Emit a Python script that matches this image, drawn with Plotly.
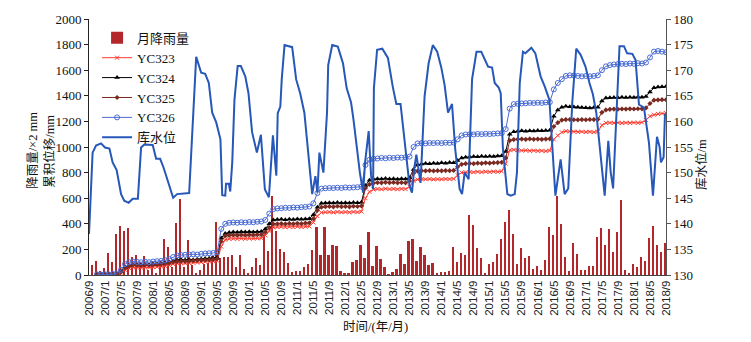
import plotly.graph_objects as go

# ---------------- data ----------------
# x axis: month index, 0 = 2006/9, 144 = 2018/9
tick_labels = ["2006/9", "2007/1", "2007/5", "2007/9", "2008/1", "2008/5", "2008/9",
               "2009/1", "2009/5", "2009/9", "2010/1", "2010/5", "2010/9",
               "2011/1", "2011/5", "2011/9", "2012/1", "2012/5", "2012/9",
               "2013/1", "2013/5", "2013/9", "2014/1", "2014/5", "2014/9",
               "2015/1", "2015/5", "2015/9", "2016/1", "2016/5", "2016/9",
               "2017/1", "2017/5", "2017/9", "2018/1", "2018/5", "2018/9"]
tick_months = [4 * i for i in range(len(tick_labels))]

# monthly rainfall (axis units), months 1..144
rain = [77, 106, 30, 57, 170, 102, 318, 380, 340, 364, 140, 155,
        100, 145, 40, 108, 15, 110, 285, 220, 65, 405, 596, 60,
        276, 76, 8, 36, 88, 93, 150, 415, 130, 137, 140, 155,
        59, 160, 50, 15, 59, 132, 80, 310, 188, 620, 341, 207,
        176, 90, 21, 31, 31, 59, 83, 196, 377, 160, 377, 155,
        232, 227, 34, 18, 13, 103, 114, 232, 134, 336, 72, 227,
        124, 65, 5, 21, 46, 165, 83, 263, 284, 108, 222, 160,
        77, 93, 15, 21, 26, 31, 222, 98, 170, 155, 465, 393,
        212, 129, 10, 83, 103, 165, 279, 413, 511, 323, 88, 212,
        129, 150, 46, 67, 36, 121, 377, 310, 620, 400, 142, 31,
        248, 165, 39, 39, 72, 72, 294, 367, 238, 356, 181, 336,
        584, 36, 10, 83, 62, 142, 108, 289, 382, 232, 181, 251]
rain_months = list(range(1, 1 + len(rain)))

# cumulative displacement (mm), months 2..144
yc326 = [5, 3, 6, 4, 8, 12,
         40, 85, 100, 105, 102, 100, 104, 100, 105, 108, 110, 115,
         125, 140, 152, 155, 158, 160, 162, 160, 165, 168, 170, 172,
         178, 360, 400, 408, 410, 408, 412, 410, 414, 412, 416, 418,
         430, 480, 515, 520, 522, 525, 524, 528, 526, 530, 532, 535,
         560, 640, 675, 678, 680, 679, 682, 680, 684, 682, 684, 686,
         690, 860, 900, 908, 910, 915, 912, 916, 914, 918, 916, 920,
         925, 1000, 1028, 1030, 1028, 1032, 1030, 1033, 1030, 1034, 1032, 1035,
         1060, 1090, 1098, 1100, 1098, 1102, 1100, 1103, 1101, 1104, 1106, 1108,
         1140, 1300, 1335, 1338, 1340, 1342, 1345, 1343, 1346, 1344, 1348, 1350,
         1450, 1500, 1530, 1555, 1560, 1558, 1555, 1552, 1555, 1552, 1555, 1560,
         1600, 1630, 1640, 1645, 1648, 1650, 1648, 1652, 1650, 1655, 1652, 1660,
         1700, 1745, 1750, 1745, 1740]
yc324 = [5, 2, 4, 6, 3, 8,
         30, 60, 75, 82, 80, 78, 82, 80, 84, 86, 90, 95,
         100, 110, 118, 120, 118, 122, 120, 124, 125, 128, 130, 132,
         137, 290, 325, 333, 336, 334, 338, 336, 338, 335, 338, 340,
         360, 400, 430, 434, 436, 432, 436, 434, 438, 435, 438, 440,
         470, 530, 560, 563, 565, 562, 566, 563, 565, 562, 566, 564,
         568, 700, 740, 748, 752, 750, 754, 750, 752, 749, 752, 750,
         760, 825, 862, 868, 872, 870, 874, 872, 876, 874, 878, 876,
         895, 915, 920, 922, 925, 923, 927, 925, 928, 926, 930, 932,
         965, 1100, 1120, 1124, 1126, 1123, 1127, 1125, 1128, 1126, 1128, 1130,
         1240, 1290, 1310, 1318, 1315, 1312, 1310, 1308, 1306, 1305, 1308, 1310,
         1360, 1382, 1385, 1387, 1385, 1388, 1386, 1389, 1387, 1390, 1388, 1395,
         1430, 1462, 1468, 1470, 1472]
yc325 = [3, 5, 2, 4, 6, 5,
         25, 55, 70, 78, 76, 75, 78, 76, 80, 82, 85, 90,
         95, 102, 106, 108, 107, 110, 112, 114, 116, 118, 120, 122,
         127, 262, 305, 310, 312, 310, 313, 311, 314, 312, 315, 316,
         335, 370, 398, 400, 402, 399, 403, 400, 404, 401, 405, 408,
         440, 505, 530, 534, 536, 533, 537, 534, 536, 533, 537, 535,
         540, 680, 708, 718, 722, 720, 724, 721, 723, 720, 722, 720,
         735, 795, 812, 815, 814, 816, 813, 815, 814, 816, 815, 817,
         845, 865, 870, 872, 870, 874, 872, 876, 874, 877, 878, 880,
         915, 1050, 1058, 1060, 1062, 1059, 1063, 1060, 1062, 1059, 1062, 1064,
         1160, 1190, 1210, 1214, 1215, 1213, 1212, 1214, 1213, 1215, 1214, 1216,
         1270, 1290, 1294, 1296, 1295, 1297, 1296, 1298, 1297, 1299, 1298, 1305,
         1340, 1366, 1368, 1370, 1369]
yc323 = [2, 4, 3, 5, 2, 6,
         18, 40, 55, 60, 58, 57, 60, 58, 62, 63, 66, 70,
         78, 86, 92, 93, 91, 94, 96, 98, 100, 103, 105, 107,
         111, 222, 275, 282, 284, 282, 285, 283, 286, 284, 286, 288,
         310, 345, 372, 375, 376, 373, 377, 374, 378, 375, 378, 380,
         410, 460, 488, 491, 492, 489, 493, 490, 492, 489, 493, 491,
         495, 600, 650, 668, 672, 670, 674, 671, 673, 670, 673, 672,
         690, 735, 746, 749, 748, 750, 747, 749, 748, 750, 749, 751,
         780, 800, 803, 805, 803, 806, 804, 807, 805, 808, 806, 810,
         870, 975, 978, 975, 972, 974, 970, 972, 969, 971, 968, 972,
         1060, 1090, 1115, 1124, 1122, 1120, 1118, 1120, 1117, 1119, 1116, 1120,
         1170, 1188, 1190, 1188, 1190, 1187, 1190, 1188, 1191, 1189, 1192, 1210,
         1240, 1252, 1258, 1262, 1265]
disp_months = list(range(2, 2 + len(yc326)))

# reservoir water level (m) at (fractional) month index
wl_month = [0, 0.9, 1.75, 3, 4, 5.1, 5.9, 6.9, 8, 8.8, 9.9, 10.9, 12.2, 13, 13.8, 15.9,
            16.75, 17.75, 18.6, 20.1, 21, 22, 25, 26.75, 28, 29, 29.9, 30.75, 31.75,
            32.8, 33.25, 34, 34.2, 34.9, 35.25, 35.75, 36.3, 37.1, 37.9, 39, 39.8,
            40.7, 41.9, 42.9, 43.9, 44.9, 45.9, 46.75, 47.1, 47.75, 48.1, 48.8, 50.7,
            51.7, 52.7, 53.75, 54.7, 55.7, 56.5, 57, 57.5, 58.5, 59.4, 59.7, 60.7,
            62.1, 63.4, 64.3, 65.4, 66, 67.6, 68.4, 68.9, 69.8, 70.4, 70.9, 71.1,
            71.9, 73.2, 74.6, 75.8, 76.7, 77.75, 78.9, 80, 80.6, 81.2, 81.7, 82.75,
            83.75, 84.75, 85.8, 86.9, 87.9, 88.75, 89.6, 90.6, 91.4, 92.5, 93.1,
            93.75, 94.75, 95.6, 96.7, 97.9, 99.6, 100.6, 101.25, 102.25, 102.75,
            103.3, 104.4, 105.25, 106.25, 106.8, 107.5, 108.3, 108.9, 110.4, 111.4,
            112.7, 113.75, 114.9, 116.4, 117.25, 117.7, 118.7, 119.6, 120.6, 121.6,
            122.7, 123.9, 124.9, 125.75, 126.6, 127.7, 128.7, 129.6, 130.2, 130.8,
            131.7, 132.4, 133.5, 134.3, 135.6, 136.4, 137.25, 138.5, 139.75, 140.75,
            141.75, 142.4, 142.75, 143.4, 143.75]
wl_level = [138, 153.9, 155.3, 155.7, 154.9, 154.7, 152.0, 150.5, 145.8, 144.5, 144.1, 144.9,
            144.9, 154.9, 155.5, 155.4, 152.7, 152.7, 151.0, 147.1, 145.1, 145.8, 146.0,
            172.6, 169.5, 169.3, 167.5, 161.7, 159.8, 156.5, 145.6, 145.5, 147.8, 147.8,
            146.3, 152.0, 164.2, 170.8, 170.8, 168.8, 165.5, 157.9, 153.9, 157.4, 146.7,
            145.2, 157.3, 149.4, 161.6, 162.9, 168.2, 174.9, 174.5, 168.2, 165.5, 161.7,
            154.6, 145.8, 149.3, 146.1, 153.9, 150.0, 161.7, 171.0, 174.9, 174.6, 171.3,
            166.5, 163.7, 160.4, 150.0, 146.1, 152.0, 158.1, 149.4, 146.8, 166.5, 174.0,
            174.2, 172.4, 166.8, 163.4, 163.4, 154.6, 147.4, 146.1, 151.0, 153.5, 148.0,
            164.9, 171.3, 174.9, 173.6, 170.6, 167.1, 161.7, 163.4, 154.6, 146.8, 145.8,
            150.0, 148.7, 168.2, 173.6, 173.6, 170.7, 170.5, 167.5, 166.6, 165.5, 154.6,
            145.8, 145.5, 145.8, 150.0, 167.5, 173.6, 173.3, 174.4, 173.3, 168.8, 166.8,
            164.2, 145.5, 150.0, 152.6, 145.8, 146.9, 163.6, 174.2, 173.0, 170.7, 167.5,
            165.3, 161.7, 152.6, 145.5, 156.2, 150.1, 146.9, 161.0, 174.7, 174.7, 173.3,
            173.2, 172.0, 163.3, 162.7, 155.8, 145.5, 157.0, 155.0, 152.0, 153.0, 161.5]

# ---------------- figure ----------------
SERIF = "Liberation Serif, Noto Sans CJK SC, serif"
CJK = "Liberation Serif, Noto Sans CJK SC, sans-serif"

fig = go.Figure()

fig.add_trace(go.Bar(
    x=[m - 0.25 for m in rain_months], y=rain, width=0.55, name="月降雨量",
    marker=dict(color="#B3262A", line=dict(width=0))))

fig.add_trace(go.Scatter(
    x=disp_months, y=yc323, name="YC323", mode="lines+markers",
    line=dict(color="#FF3B30", width=1),
    marker=dict(symbol="x-thin", size=4, color="#FF3B30",
                line=dict(color="#FF3B30", width=1))))
fig.add_trace(go.Scatter(
    x=disp_months, y=yc324, name="YC324", mode="lines+markers",
    line=dict(color="#000000", width=1),
    marker=dict(symbol="triangle-up", size=5, color="#000000")))
fig.add_trace(go.Scatter(
    x=disp_months, y=yc325, name="YC325", mode="lines+markers",
    line=dict(color="#7B2A22", width=1),
    marker=dict(symbol="diamond", size=4, color="#7B2A22")))
fig.add_trace(go.Scatter(
    x=disp_months, y=yc326, name="YC326", mode="lines+markers",
    line=dict(color="#4A6CD4", width=1),
    marker=dict(symbol="circle-open", size=5, color="#4A6CD4",
                line=dict(width=1))))
fig.add_trace(go.Scatter(
    x=wl_month, y=wl_level, name="库水位", mode="lines", yaxis="y2",
    line=dict(color="#2757B8", width=2)))

fig.update_layout(
    width=751, height=342,
    margin=dict(l=89, r=85, t=17, b=67),
    paper_bgcolor="white", plot_bgcolor="white",
    showlegend=True,
    legend=dict(x=0.014, y=0.985, xanchor="left", yanchor="top",
                bgcolor="rgba(0,0,0,0)", font=dict(family=CJK, size=13, color="#111"),
                itemwidth=30, tracegroupgap=0),
    bargap=0,
    xaxis=dict(range=[0, 144], tickmode="array", tickvals=tick_months, ticktext=tick_labels,
               tickangle=-90, tickfont=dict(family="Liberation Sans, Arial", size=11.5, color="#222"),
               showline=True, linecolor="#444", linewidth=1, ticks="",
               showgrid=False, zeroline=False),
    yaxis=dict(range=[0, 2000], dtick=200, tickfont=dict(family=SERIF, size=13, color="#111"),
               showline=True, linecolor="#222", linewidth=1, ticks="outside", ticklen=4,
               tickcolor="#222", showgrid=False, zeroline=False),
    yaxis2=dict(range=[130, 180], dtick=5, overlaying="y", side="right",
                tickfont=dict(family=SERIF, size=13, color="#111"),
                showline=True, linecolor="#555", linewidth=1, ticks="outside", ticklen=4,
                tickcolor="#555", showgrid=False, zeroline=False),
    annotations=[
        dict(text="降雨量/×2 mm", xref="paper", yref="paper",
             x=-0.097, y=0.485, xanchor="center", yanchor="middle", textangle=-90,
             showarrow=False, font=dict(family=CJK, size=12.5, color="#111")),
        dict(text="累积位移/mm", xref="paper", yref="paper",
             x=-0.0676, y=0.485, xanchor="center", yanchor="middle", textangle=-90,
             showarrow=False, font=dict(family=CJK, size=12.5, color="#111")),
        dict(text="库水位/m", xref="paper", yref="paper",
             x=1.0624, y=0.43, xanchor="center", yanchor="middle", textangle=-90,
             showarrow=False, font=dict(family=CJK, size=12.5, color="#111")),
        dict(text="时间/(年/月)", xref="paper", yref="paper",
             x=0.497, y=-0.2016, xanchor="center", yanchor="middle",
             showarrow=False, font=dict(family=CJK, size=12.5, color="#111")),
    ],
)

fig.write_html("out.html")
